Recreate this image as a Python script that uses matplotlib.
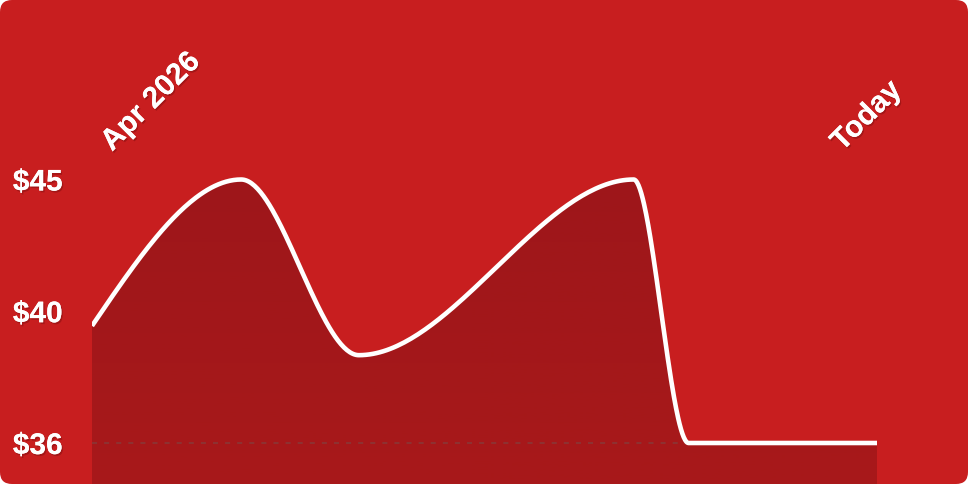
import numpy as np
import matplotlib
matplotlib.use('Agg')
import matplotlib.pyplot as plt
import matplotlib.patheffects as pe
from matplotlib.patches import FancyBboxPatch, Polygon
from matplotlib.colors import LinearSegmentedColormap

# data (days since start, price)
days = [0, 19, 34, 69, 76, 100]
prices = [40.0, 45.0, 39.0, 45.0, 36.0, 36.0]
x_labels = ['Apr 2026', 'Today']
y_ticks = [36, 40.5, 45]
y_labels = ['$36', '$40', '$45']

plt.rcParams['font.family'] = ['Liberation Sans', 'DejaVu Sans']

BG = '#c81e1f'
shadow = [pe.withSimplePatchShadow(offset=(1.0, -1.3), shadow_rgbFace='#3a0000', alpha=0.25), pe.Normal()]


def monotone(x, y, n=80):
    # monotone cubic (like d3 curveMonotoneX)
    x = np.asarray(x, float)
    y = np.asarray(y, float)
    h = np.diff(x)
    s = np.diff(y) / h
    m = np.zeros(len(x))
    for i in range(1, len(x) - 1):
        p = (s[i - 1] * h[i] + s[i] * h[i - 1]) / (h[i - 1] + h[i])
        m[i] = (np.sign(s[i - 1]) + np.sign(s[i])) * min(abs(s[i - 1]), abs(s[i]), 0.5 * abs(p))
    m[0] = (3 * s[0] - m[1]) / 2
    m[-1] = (3 * s[-1] - m[-2]) / 2
    xs, ys = [], []
    for i in range(len(x) - 1):
        t = np.linspace(0, 1, n)
        h00 = 2 * t**3 - 3 * t**2 + 1
        h10 = t**3 - 2 * t**2 + t
        h01 = -2 * t**3 + 3 * t**2
        h11 = t**3 - t**2
        xs.append(x[i] + t * h[i])
        ys.append(h00 * y[i] + h10 * h[i] * m[i] + h01 * y[i + 1] + h11 * h[i] * m[i + 1])
    return np.concatenate(xs), np.concatenate(ys)


fig = plt.figure(figsize=(9.68, 4.84), dpi=100)
fig.patch.set_facecolor('white')

# background card in pixel coords
bg = fig.add_axes([0, 0, 1, 1])
bg.set_xlim(0, 968)
bg.set_ylim(484, 0)
bg.axis('off')
bg.add_patch(FancyBboxPatch((0, 0), 968, 484, boxstyle='round,pad=0,rounding_size=12',
                            facecolor=BG, edgecolor='none'))
bg.text(112, 152, x_labels[0], rotation=45, rotation_mode='anchor', ha='left', va='baseline',
        color='white', fontsize=21.5, fontweight='bold', path_effects=shadow)
bg.text(842, 152, x_labels[1], rotation=45, rotation_mode='anchor', ha='left', va='baseline',
        color='white', fontsize=21.5, fontweight='bold', path_effects=shadow)

# plot area: 36 -> 443px, 45 -> 179.5px
scale = (443 - 179.5) / 9
ymin = 36 - (484 - 443) / scale
ymax = 36 + 443 / scale
ax = fig.add_axes([92 / 968, 0, 785 / 968, 1])
ax.set_facecolor('none')
ax.set_xlim(0, 100)
ax.set_ylim(ymin, ymax)
for sp in ax.spines.values():
    sp.set_visible(False)
ax.set_xticks([])

xs, ys = monotone(days, prices)

# gradient fill under curve
cmap = LinearSegmentedColormap.from_list('f', ['#a8191a', '#98151a'])
grad = np.linspace(0, 1, 256).reshape(-1, 1)
im = ax.imshow(grad, extent=[0, 100, ymin, ymax], origin='lower', aspect='auto', cmap=cmap, zorder=1)
verts = list(zip(xs, ys)) + [(100, ymin), (0, ymin)]
poly = Polygon(verts, closed=True, facecolor='none', edgecolor='none', transform=ax.transData)
ax.add_patch(poly)
im.set_clip_path(poly)

ax.axhline(36, color='#8c3434', lw=1.3, ls=(0, (2.8, 3.9)), zorder=2)
ax.plot(xs, ys, color='white', lw=3.3, solid_capstyle='butt', zorder=3)

ax.set_yticks(y_ticks, y_labels)
ax.tick_params(axis='y', length=0, pad=57, labelsize=21.5, labelcolor='white')
for lbl in ax.get_yticklabels():
    lbl.set_ha('left')
    lbl.set_fontweight('bold')
    lbl.set_path_effects(shadow)

fig.savefig('out.png', dpi=100, facecolor='white')
